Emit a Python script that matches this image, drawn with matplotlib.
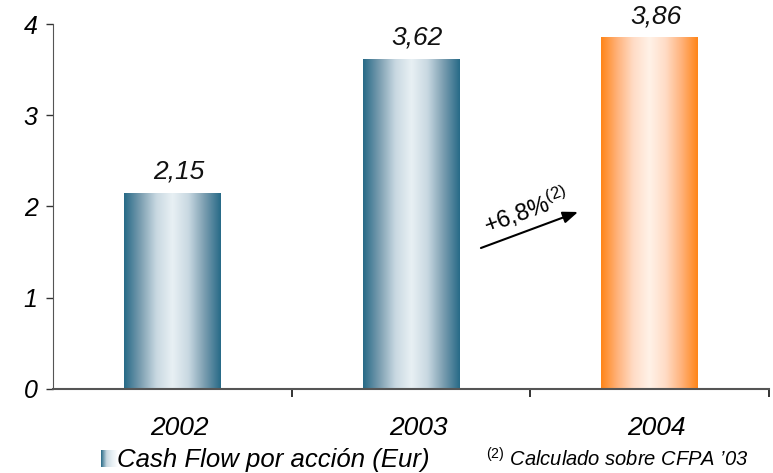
import numpy as np
import matplotlib
matplotlib.use("Agg")
import matplotlib.pyplot as plt
from matplotlib.colors import LinearSegmentedColormap

plt.rcParams['font.family'] = ['Liberation Sans', 'DejaVu Sans']
plt.rcParams['mathtext.fontset'] = 'custom'
plt.rcParams['mathtext.rm'] = 'Liberation Sans'
plt.rcParams['mathtext.it'] = 'Liberation Sans:italic'

years = ['2002', '2003', '2004']
values = [2.15, 3.62, 3.86]
value_labels = ['2,15', '3,62', '3,86']
yticks = [0, 1, 2, 3, 4]
growth_label = r'+6,8%$^{\mathregular{(2)}}$'
legend_label = 'Cash Flow por acción (Eur)'
note_label = r'$^{\mathit{(2)}}$ Calculado sobre CFPA ’03'

blue_map = LinearSegmentedColormap.from_list(
    'blue_bar', ['#276a87', '#7a9db0', '#c8d8e1', '#e8f0f4', '#c8d8e1', '#7a9db0', '#276a87'])
orange_map = LinearSegmentedColormap.from_list(
    'orange_bar', ['#ff8518', '#ffb27a', '#ffdcc6', '#fff2e8', '#ffdcc6', '#ffb27a', '#ff8518'])
bar_maps = [blue_map, blue_map, orange_map]

fig = plt.figure(figsize=(7.73, 4.73), dpi=100)
ax = fig.add_axes([53 / 773, 1 - 388.5 / 473, 716 / 773, 364 / 473])

x = np.arange(len(years))
width = 0.405
bars = ax.bar(x, values, width=width, color='none', edgecolor='none', zorder=2)
grad = np.linspace(0, 1, 256).reshape(1, -1)
for rect, cmap in zip(bars, bar_maps):
    x0, y0 = rect.get_x(), rect.get_y()
    w, h = rect.get_width(), rect.get_height()
    im = ax.imshow(grad, cmap=cmap, aspect='auto', extent=[x0, x0 + w, y0, y0 + h],
                   interpolation='bicubic', zorder=2)
    im.set_clip_path(rect)

for xi, v, lab in zip(x, values, value_labels):
    ax.text(xi + 0.025, v + 0.1, lab, ha='center', va='bottom', fontsize=19,
            style='italic', color='#111111')

ax.set_xlim(-0.5, 2.5)
ax.set_ylim(0, 4)
ax.set_yticks(yticks)
ax.set_yticklabels([str(t) for t in yticks], fontsize=18, style='italic')
ax.set_xticks([0.5, 1.5, 2.5], minor=False)
ax.set_xticklabels([])
ax.set_xticks(x + 0.03, minor=True)
ax.set_xticklabels(years, minor=True, fontsize=19, style='italic')
ax.tick_params(axis='x', which='minor', length=0, pad=20)
ax.tick_params(axis='x', which='major', length=6, width=1.2, color='#111111')
ax.tick_params(axis='y', length=5, width=1, color='#333333', pad=6)
for side in ['top', 'right']:
    ax.spines[side].set_visible(False)
ax.spines['left'].set_color('#555555')
ax.spines['bottom'].set_color('#555555')
ax.spines['bottom'].set_linewidth(1.5)
ax.spines['left'].set_bounds(0, 4)

# growth arrow between 2003 and 2004
ax.annotate('', xy=(1.70, 1.94), xytext=(1.293, 1.544),
            arrowprops=dict(arrowstyle='-|>,head_length=0.9,head_width=0.35',
                            color='black', lw=1.5, shrinkA=0, shrinkB=0))
ax.text(1.48, 1.96, growth_label, ha='center', va='center', fontsize=17,
        rotation=20, rotation_mode='anchor')

# legend swatch and notes beneath the axis
sw = fig.add_axes([101 / 773, 1 - 467 / 473, 17 / 773, 17 / 473])
sw.imshow(grad, cmap=LinearSegmentedColormap.from_list(
    'sw', ['#276a87', '#c8d8e1', '#e8f0f4', '#ffffff']), aspect='auto')
sw.axis('off')
fig.text(117 / 773, 1 - 460 / 473, legend_label, ha='left', va='center',
         fontsize=18.5, style='italic')
fig.text(486 / 773, 1 - 459 / 473, note_label, ha='left', va='center',
         fontsize=14.5, style='italic')

fig.savefig('out.png', dpi=100)
